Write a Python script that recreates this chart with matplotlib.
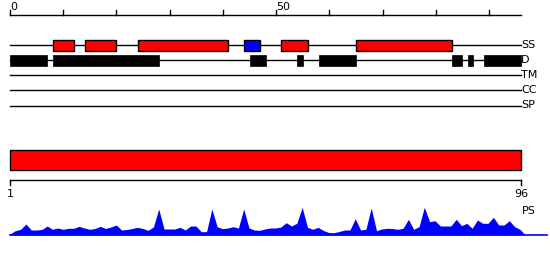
import numpy as np
import matplotlib
matplotlib.use("Agg")
import matplotlib.pyplot as plt
from matplotlib.patches import Rectangle

# sequence length and track data (residue ranges)
seq_len = 96
track_names = ["SS", "D", "TM", "CC", "SP"]
ss_starts = [8, 14, 24, 44, 51, 65]
ss_ends = [12, 20, 41, 47, 56, 83]
ss_colors = ["red", "red", "red", "blue", "red", "red"]
d_starts = [0, 8, 45, 54, 58, 83, 86, 89]
d_ends = [7, 28, 48, 55, 65, 85, 87, 96]

# PS profile, one value per residue position (pixels above baseline)
ps_profile = [1, 4.3, 5.7, 11, 5, 5, 5.5, 9, 5.7, 7, 5.7, 6.7, 6.7, 8.7, 7, 5.7,
              6.5, 8.7, 6.5, 8, 10, 5, 5.5, 6.5, 7.7, 6.5, 4.7, 8, 26, 6, 6, 6,
              7.7, 5, 9, 9, 3.3, 3.3, 26, 8.3, 6.3, 7, 8.3, 7, 26, 7, 5, 4.7,
              6, 7, 7, 8, 12.3, 9, 11.7, 27.7, 7.7, 5.7, 7.7, 4.5, 2.5, 2.3,
              3.5, 5, 5, 16.3, 5, 5.7, 27, 4.3, 6, 6.7, 6.5, 5.7, 6.7, 15.7,
              5.7, 8.3, 27.7, 13.3, 14.3, 9, 9, 9, 15.7, 9.3, 11.7, 6.7, 15,
              11.7, 11.7, 17.7, 10, 10, 14.3, 8.3, 5.7, 0]

S = 511 / seq_len  # pixels per residue
fig = plt.figure(figsize=(5.5, 2.6), dpi=100)
ax = fig.add_axes([0, 0, 1, 1])
ax.set_xlim(-10 / S, 540 / S)
ax.set_ylim(260, 0)
ax.axis("off")

fs = 8
lw = 1.0

# top ruler
ax.plot([0, seq_len], [15, 15], color="black", lw=lw)
for t in range(0, seq_len, 10):
    ax.plot([t, t], [10, 15], color="black", lw=lw)
for t in [0, 50]:
    ax.text(t + 0.1, 10, str(t), fontsize=fs, ha="left", va="baseline")

# tracks
track_y = [45, 60.3, 75, 90, 105.5]
for name, y in zip(track_names, track_y):
    ax.plot([0, seq_len], [y, y], color="black", lw=lw, zorder=1)
    ax.text(seq_len, y, name, fontsize=fs, ha="left", va="center")

for s, e, c in zip(ss_starts, ss_ends, ss_colors):
    ax.add_patch(Rectangle((s, 40), e - s, 10.5, facecolor=c, edgecolor="black", lw=lw, zorder=2))
for s, e in zip(d_starts, d_ends):
    ax.add_patch(Rectangle((s, 55), e - s, 10.5, facecolor="black", edgecolor="black", lw=0.5, zorder=2))

# full-length bar
ax.add_patch(Rectangle((0, 150.3), seq_len, 20, facecolor="red", edgecolor="black", lw=lw))

# lower ruler
ax.plot([0, seq_len], [180, 180], color="black", lw=lw)
for t in [0, seq_len]:
    ax.plot([t, t], [180, 185], color="black", lw=lw)
ax.text(0.1, 189, "1", fontsize=fs, ha="center", va="top")
ax.text(seq_len, 189, str(seq_len), fontsize=fs, ha="center", va="top")
ax.text(seq_len + 0.1, 210.5, "PS", fontsize=fs, ha="left", va="center")

# PS profile
base = 235
xs = np.arange(len(ps_profile)) * (seq_len + 0.8) / (len(ps_profile) - 1)
ys = base - np.array(ps_profile)
ax.fill_between(xs, ys, base, color="blue", lw=0)
ax.plot([0, 537 / S], [base, base], color="blue", lw=1.2)

fig.savefig("out.png", dpi=100)
